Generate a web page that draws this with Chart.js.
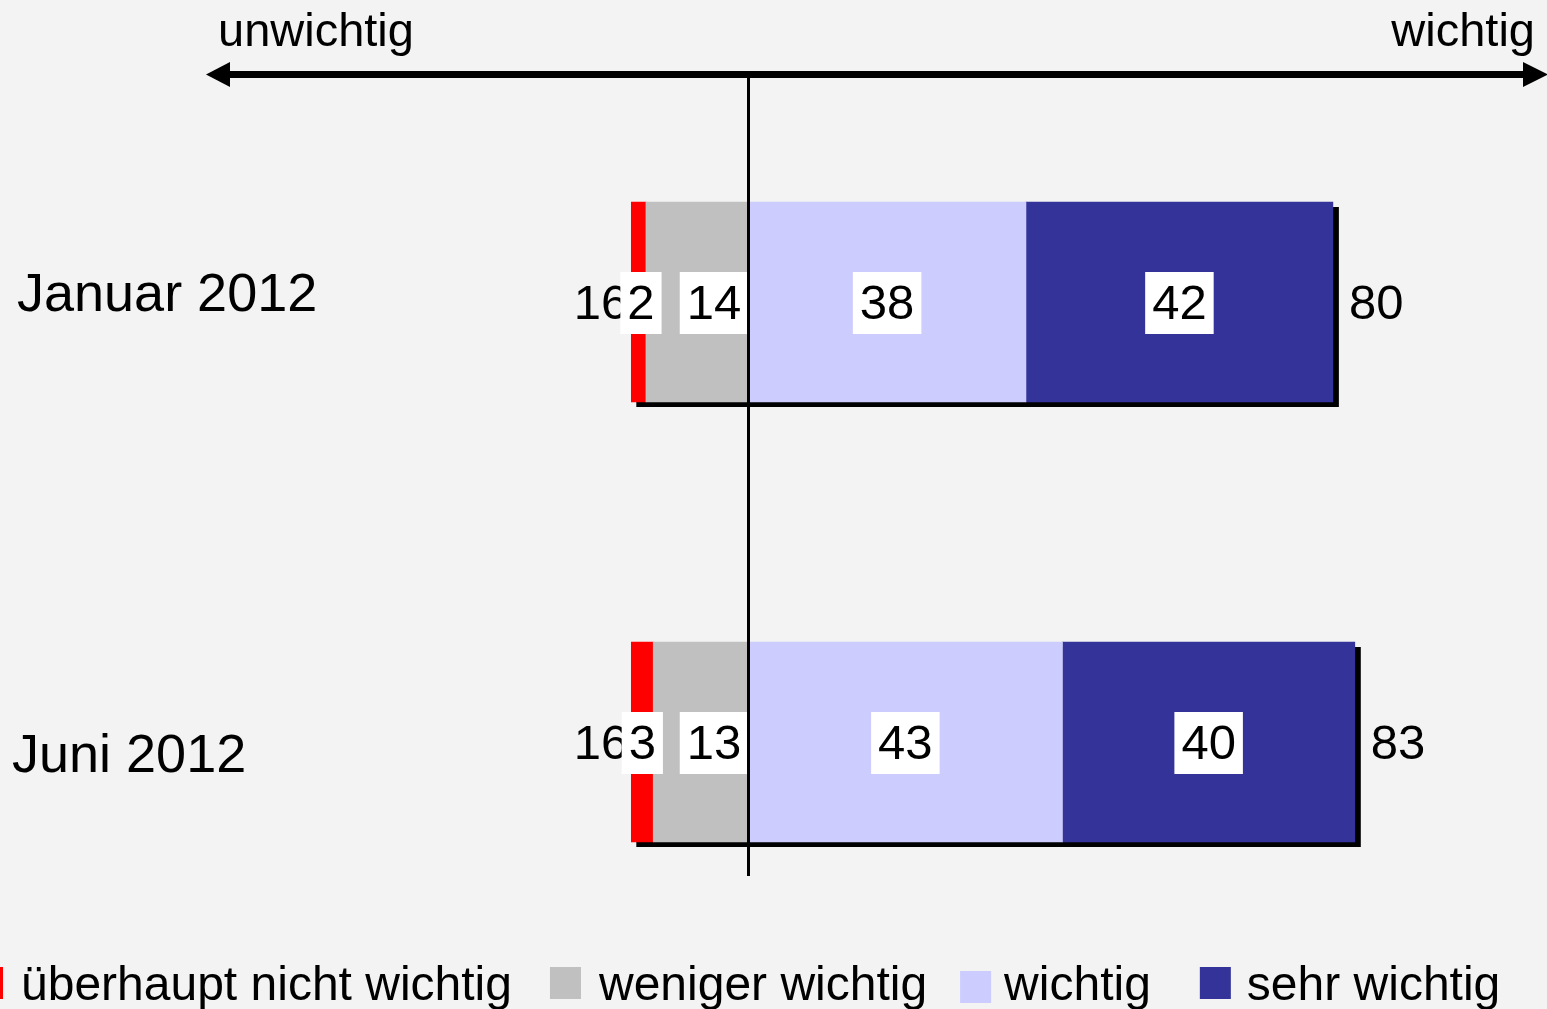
<!DOCTYPE html>
<html>
<head>
<meta charset="utf-8">
<script src="https://cdn.jsdelivr.net/npm/chart.js@4"></script>
<style>
  html, body { margin: 0; padding: 0; background: #f3f3f3; overflow: hidden; }
  canvas { display: block; }
</style>
</head>
<body>
<canvas id="chart" width="1547" height="1009"></canvas>
<script>
// data
var categories = ["Januar 2012", "Juni 2012"];
var ueberhauptNicht = [2, 3];
var wenigerWichtig = [14, 13];
var wichtigVals = [38, 43];
var sehrWichtig = [42, 40];
var legendLabels = ["überhaupt nicht wichtig", "weniger wichtig", "wichtig", "sehr wichtig"];
var axisLabels = ["unwichtig", "wichtig"];

var colors = {
  ueberhaupt: "#ff0000",
  weniger: "#c0c0c0",
  wichtig: "#ccccff",
  sehr: "#333399"
};
var FONT = "'Liberation Sans', Arial, Helvetica, sans-serif";

var negTotals = ueberhauptNicht.map(function (v, i) { return v + wenigerWichtig[i]; });
var posTotals = wichtigVals.map(function (v, i) { return v + sehrWichtig[i]; });

var neg = function (arr) { return arr.map(function (v) { return -v; }); };

// drawing of shadow, labels, arrow, legend
var decor = {
  id: "decor",
  beforeDraw: function (chart) {
    var ctx = chart.ctx;
    ctx.save();
    ctx.fillStyle = "#f3f3f3";
    ctx.fillRect(0, 0, chart.width, chart.height);
    ctx.restore();
  },
  beforeDatasetsDraw: function (chart) {
    var ctx = chart.ctx;
    var xs = chart.scales.x;
    var meta = chart.getDatasetMeta(0);
    ctx.save();
    ctx.fillStyle = "#000";
    categories.forEach(function (c, i) {
      var el = meta.data[i];
      var l = xs.getPixelForValue(-negTotals[i]);
      var r = xs.getPixelForValue(posTotals[i]);
      var top = el.y - el.height / 2;
      ctx.fillRect(l + 5, top + 5, r - l + 1, el.height);
    });
    ctx.restore();
  },
  afterDatasetsDraw: function (chart) {
    var ctx = chart.ctx;
    var xs = chart.scales.x;
    var ys = chart.scales.y;
    ctx.save();

    // totals
    ctx.font = "49px " + FONT;
    ctx.fillStyle = "#000";
    ctx.textBaseline = "middle";
    categories.forEach(function (c, i) {
      var y = ys.getPixelForValue(i) + 3;
      ctx.textAlign = "right";
      ctx.fillText(String(negTotals[i]), xs.getPixelForValue(-negTotals[i]) - 3, y);
      ctx.textAlign = "left";
      ctx.fillText(String(posTotals[i]), xs.getPixelForValue(posTotals[i]) + 16, y);
    });

    // value boxes
    chart.data.datasets.forEach(function (ds, d) {
      var meta = chart.getDatasetMeta(d);
      meta.data.forEach(function (el, i) {
        var txt = String(Math.abs(ds.data[i]));
        var w = ctx.measureText(txt).width + 14;
        var cx = (el.x + el.base) / 2;
        if (d === 0) cx = el.base - w / 2;
        if (d === 1) cx = Math.max(cx, el.x - 11 + w / 2);
        var cy = el.y + 1;
        ctx.fillStyle = "#fff";
        ctx.fillRect(cx - w / 2, cy - 31, w, 62);
        ctx.fillStyle = "#000";
        ctx.textAlign = "center";
        ctx.fillText(txt, cx, cy + 2);
      });
    });

    // zero line
    var x0 = Math.round(xs.getPixelForValue(0));
    ctx.fillRect(x0 - 1, 74, 3, 876 - 74);

    // double arrow
    ctx.fillRect(222, 71, 1547 - 222 - 20, 7);
    ctx.beginPath();
    ctx.moveTo(206, 74.5);
    ctx.lineTo(230, 62);
    ctx.lineTo(230, 87);
    ctx.closePath();
    ctx.fill();
    ctx.beginPath();
    ctx.moveTo(1548, 74.5);
    ctx.lineTo(1523, 62);
    ctx.lineTo(1523, 87);
    ctx.closePath();
    ctx.fill();

    ctx.font = "47px " + FONT;
    ctx.textBaseline = "alphabetic";
    ctx.textAlign = "left";
    ctx.fillText(axisLabels[0], 218, 46);
    ctx.textAlign = "right";
    ctx.fillText(axisLabels[1], 1535, 46);

    // category labels
    var dx = [17, 12];
    var dy = [-6, 15];
    ctx.font = "54px " + FONT;
    ctx.textAlign = "left";
    ctx.textBaseline = "middle";
    categories.forEach(function (c, i) {
      ctx.fillText(c, dx[i], ys.getPixelForValue(i) + dy[i]);
    });

    // legend
    var legColors = [colors.ueberhaupt, colors.weniger, colors.wichtig, colors.sehr];
    var legGap = [38, 33, 49, 0];
    var boxGap = [18, 18, 13, 16];
    ctx.font = "48px " + FONT;
    ctx.textBaseline = "alphabetic";
    var x = -28;
    legendLabels.forEach(function (lab, k) {
      ctx.fillStyle = legColors[k];
      ctx.fillRect(x, k === 2 ? 971 : 967, 31, 32);
      x += 31 + boxGap[k];
      ctx.fillStyle = "#000";
      ctx.fillText(lab, x, 1000);
      x += ctx.measureText(lab).width + legGap[k];
    });

    ctx.restore();
  }
};

var chart = new Chart(document.getElementById("chart"), {
  type: "bar",
  data: {
    labels: categories,
    datasets: [
      { label: legendLabels[1], data: neg(wenigerWichtig), backgroundColor: colors.weniger },
      { label: legendLabels[0], data: neg(ueberhauptNicht), backgroundColor: colors.ueberhaupt },
      { label: legendLabels[2], data: wichtigVals, backgroundColor: colors.wichtig },
      { label: legendLabels[3], data: sehrWichtig, backgroundColor: colors.sehr }
    ]
  },
  options: {
    indexAxis: "y",
    responsive: false,
    animation: false,
    datasets: { bar: { barThickness: 200, borderWidth: 0 } },
    layout: { padding: { left: 206, right: 0, top: 82, bottom: 47 } },
    scales: {
      x: { stacked: true, display: false, min: -74.2, max: 109.3 },
      y: { stacked: true, display: false }
    },
    plugins: {
      legend: { display: false },
      tooltip: { enabled: false }
    }
  },
  plugins: [decor]
});
</script>
</body>
</html>
